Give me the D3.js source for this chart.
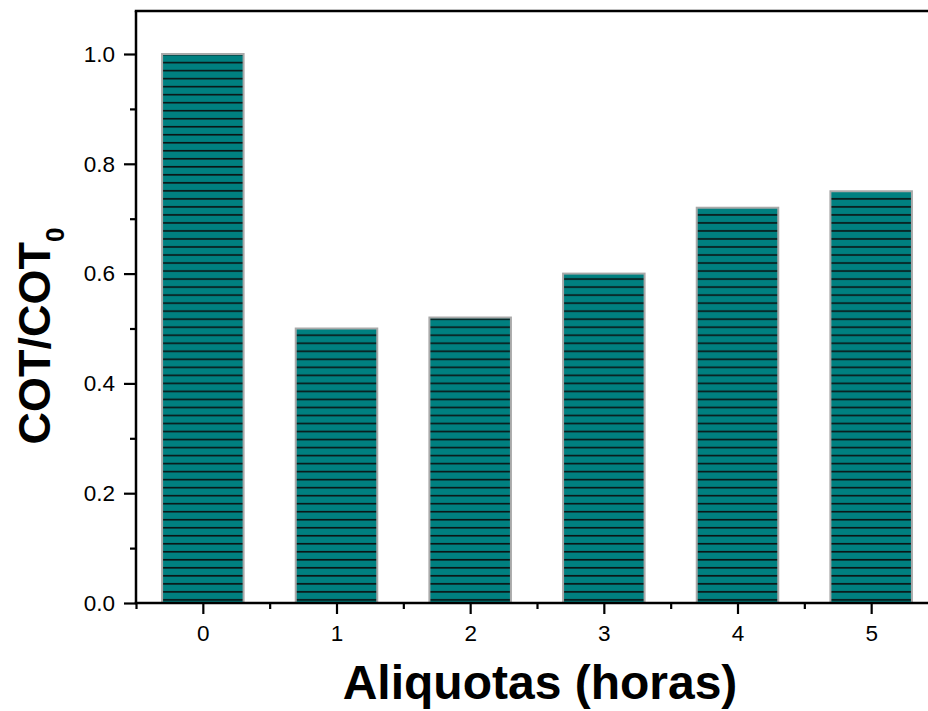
<!DOCTYPE html>
<html>
<head>
<meta charset="utf-8">
<script src="https://cdn.jsdelivr.net/npm/d3@7"></script>
<style>
  html, body { margin: 0; padding: 0; background: #fff; }
  svg { display: block; }
  text { font-family: "Liberation Sans", Arial, sans-serif; }
</style>
</head>
<body>
<svg id="chart" width="928" height="711"></svg>
<script>
// Aliquot hours and normalised total organic carbon
const categories = [0, 1, 2, 3, 4, 5];
const ratios = [1.0, 0.5, 0.52, 0.6, 0.72, 0.75];
const yTicks = [0.0, 0.2, 0.4, 0.6, 0.8, 1.0];
const yMinorTicks = [0.1, 0.3, 0.5, 0.7, 0.9];
const xMinorTicks = [-0.5, 0.5, 1.5, 2.5, 3.5, 4.5, 5.5];

const svg = d3.select("#chart");
const plotLeft = 136, plotTop = 11, plotBottom = 603, plotRight = 938;

const x = d3.scaleLinear().domain([-0.5, 5.5]).range([plotLeft, plotRight]);
const y = d3.scaleLinear().domain([0, 1.0]).range([plotBottom, 54]);
const barW = (x(1) - x(0)) * 0.61;

// Horizontal hatch used inside every bar
const defs = svg.append("defs");
const pat = defs.append("pattern")
  .attr("id", "hatch")
  .attr("patternUnits", "userSpaceOnUse")
  .attr("x", 0).attr("y", 3)
  .attr("width", 8).attr("height", 8.02);
pat.append("rect").attr("width", 8).attr("height", 8.02).attr("fill", "#008080");
pat.append("rect").attr("y", 2.6).attr("width", 8).attr("height", 1.6).attr("fill", "#0a1414");

// Bars
svg.append("g").selectAll("rect")
  .data(categories)
  .join("rect")
  .attr("x", d => x(d) - barW / 2)
  .attr("y", (d, i) => y(ratios[i]))
  .attr("width", barW)
  .attr("height", (d, i) => y(0) - y(ratios[i]))
  .attr("fill", "url(#hatch)")
  .attr("stroke", "#a9a9a9")
  .attr("stroke-width", 2);

// Y axis with major and minor ticks
svg.append("g").attr("transform", `translate(${plotLeft},0)`)
  .call(d3.axisLeft(y).tickValues(yTicks).tickFormat(d3.format(".1f")).tickSize(12).tickPadding(9));
svg.append("g").attr("transform", `translate(${plotLeft},0)`)
  .call(d3.axisLeft(y).tickValues(yMinorTicks).tickFormat("").tickSize(6));

// X axis with major and minor ticks
svg.append("g").attr("transform", `translate(0,${plotBottom})`)
  .call(d3.axisBottom(x).tickValues(categories).tickFormat(d3.format("d")).tickSize(11).tickPadding(11));
svg.append("g").attr("transform", `translate(0,${plotBottom})`)
  .call(d3.axisBottom(x).tickValues(xMinorTicks).tickFormat("").tickSize(6));

svg.selectAll(".domain").remove();
svg.selectAll(".tick line").attr("stroke", "#000").attr("stroke-width", 2.2);
svg.selectAll(".tick text").attr("font-size", 22.5).attr("fill", "#000")
  .attr("font-family", "Liberation Sans, Arial, sans-serif");

// Frame lines
const frame = svg.append("g").attr("stroke", "#000").attr("stroke-width", 2.5).attr("fill", "none");
frame.append("line").attr("x1", plotLeft).attr("x2", plotLeft).attr("y1", plotTop).attr("y2", plotBottom);
frame.append("line").attr("x1", plotLeft - 1.25).attr("x2", plotRight).attr("y1", plotTop).attr("y2", plotTop);
frame.append("line").attr("x1", plotLeft - 1.25).attr("x2", plotRight).attr("y1", plotBottom).attr("y2", plotBottom);

// Axis titles
svg.append("text")
  .attr("x", 540).attr("y", 699)
  .attr("text-anchor", "middle")
  .attr("font-size", 48).attr("font-weight", "bold")
  .text("Aliquotas (horas)");

const yl = svg.append("text")
  .attr("transform", "translate(50,336) rotate(-90)")
  .attr("text-anchor", "middle")
  .attr("font-size", 45).attr("font-weight", "bold");
yl.append("tspan").text("COT/COT");
yl.append("tspan").attr("font-size", 26).attr("dy", 14).text("0");
</script>
</body>
</html>
